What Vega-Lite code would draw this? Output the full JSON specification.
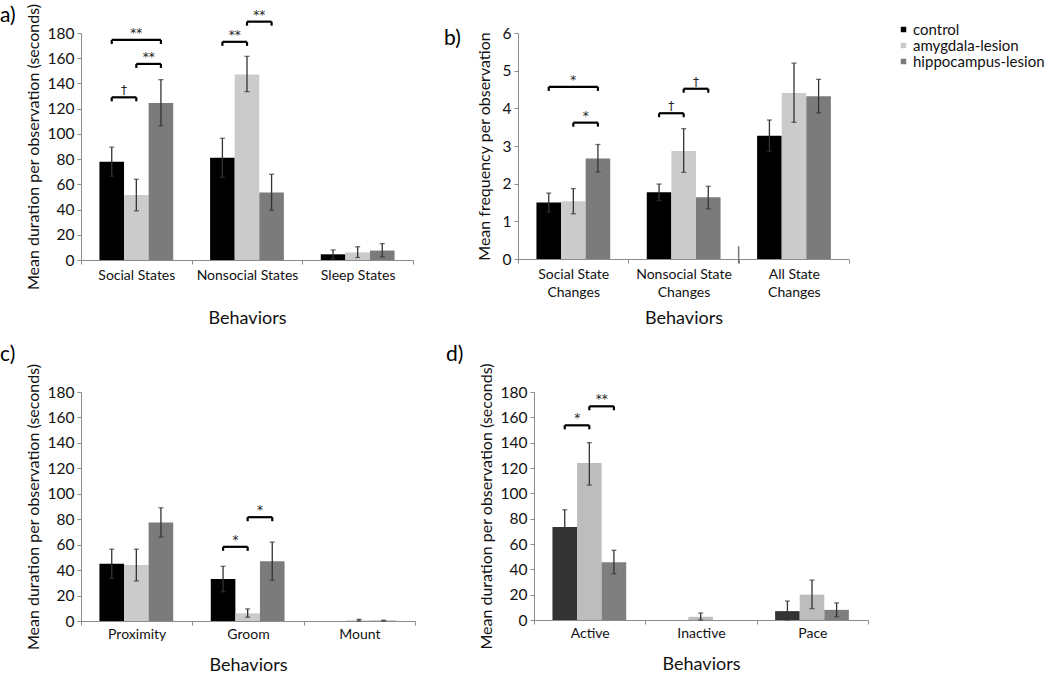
{
  "$schema": "https://vega.github.io/schema/vega-lite/v6.json",
  "padding": {"left": 0, "top": 3, "right": 5, "bottom": 0},
  "config": {
    "font": "Lato",
    "view": {"stroke": null},
    "axis": {"domainColor": "#8c8c8c", "tickColor": "#8c8c8c", "labelColor": "#111", "titleColor": "#111", "labelFont": "Lato", "titleFont": "Lato", "titleFontWeight": "normal", "grid": false, "tickSize": 4, "labelOverlap": false},
    "axisY": {"labelOverlap": false, "tickCount": 10},
    "title": {"font": "Lato", "fontSize": 21, "fontWeight": "normal", "anchor": "start", "frame": "bounds", "color": "#000"},
    "legend": {"labelFont": "Lato"}
  },
  "datasets": {
    "bars_a": [
      {"behavior": "Social States", "group": "control", "value": 78, "lo": 66.5, "hi": 89.5},
      {"behavior": "Social States", "group": "amygdala-lesion", "value": 51.5, "lo": 39, "hi": 64},
      {"behavior": "Social States", "group": "hippocampus-lesion", "value": 124.5, "lo": 106.5, "hi": 143},
      {"behavior": "Nonsocial States", "group": "control", "value": 81, "lo": 65.5, "hi": 96.5},
      {"behavior": "Nonsocial States", "group": "amygdala-lesion", "value": 147, "lo": 133.5, "hi": 161.5},
      {"behavior": "Nonsocial States", "group": "hippocampus-lesion", "value": 53.5, "lo": 39.5, "hi": 68},
      {"behavior": "Sleep States", "group": "control", "value": 4.5, "lo": 1, "hi": 8},
      {"behavior": "Sleep States", "group": "amygdala-lesion", "value": 6, "lo": 2, "hi": 10.5},
      {"behavior": "Sleep States", "group": "hippocampus-lesion", "value": 7.5, "lo": 2.5, "hi": 13}
    ],
    "br_a": [
      {"behavior": "Social States", "from": "control", "to": "amygdala-lesion", "h": 129, "label": "†"},
      {"behavior": "Social States", "from": "amygdala-lesion", "to": "hippocampus-lesion", "h": 155.5, "label": "**"},
      {"behavior": "Social States", "from": "control", "to": "hippocampus-lesion", "h": 174.5, "label": "**"},
      {"behavior": "Nonsocial States", "from": "control", "to": "amygdala-lesion", "h": 173, "label": "**"},
      {"behavior": "Nonsocial States", "from": "amygdala-lesion", "to": "hippocampus-lesion", "h": 189, "label": "**"}
    ],
    "bars_b": [
      {"behavior": "Social State Changes", "group": "control", "value": 1.5, "lo": 1.25, "hi": 1.75},
      {"behavior": "Social State Changes", "group": "amygdala-lesion", "value": 1.53, "lo": 1.2, "hi": 1.87},
      {"behavior": "Social State Changes", "group": "hippocampus-lesion", "value": 2.67, "lo": 2.31, "hi": 3.04},
      {"behavior": "Nonsocial State Changes", "group": "control", "value": 1.77, "lo": 1.55, "hi": 1.99},
      {"behavior": "Nonsocial State Changes", "group": "amygdala-lesion", "value": 2.87, "lo": 2.3, "hi": 3.46},
      {"behavior": "Nonsocial State Changes", "group": "hippocampus-lesion", "value": 1.64, "lo": 1.33, "hi": 1.93},
      {"behavior": "All State Changes", "group": "control", "value": 3.27, "lo": 2.86, "hi": 3.69},
      {"behavior": "All State Changes", "group": "amygdala-lesion", "value": 4.41, "lo": 3.63, "hi": 5.2},
      {"behavior": "All State Changes", "group": "hippocampus-lesion", "value": 4.32, "lo": 3.88, "hi": 4.77}
    ],
    "br_b": [
      {"behavior": "Social State Changes", "from": "control", "to": "hippocampus-lesion", "h": 4.57, "label": "*"},
      {"behavior": "Social State Changes", "from": "amygdala-lesion", "to": "hippocampus-lesion", "h": 3.62, "label": "*"},
      {"behavior": "Nonsocial State Changes", "from": "control", "to": "amygdala-lesion", "h": 3.87, "label": "†"},
      {"behavior": "Nonsocial State Changes", "from": "amygdala-lesion", "to": "hippocampus-lesion", "h": 4.52, "label": "†"}
    ],
    "bars_c": [
      {"behavior": "Proximity", "group": "control", "value": 45, "lo": 33.5, "hi": 56.5},
      {"behavior": "Proximity", "group": "amygdala-lesion", "value": 44, "lo": 31.5, "hi": 56.5},
      {"behavior": "Proximity", "group": "hippocampus-lesion", "value": 77.5, "lo": 66, "hi": 89},
      {"behavior": "Groom", "group": "control", "value": 33, "lo": 23, "hi": 43},
      {"behavior": "Groom", "group": "amygdala-lesion", "value": 6, "lo": 3, "hi": 9.5},
      {"behavior": "Groom", "group": "hippocampus-lesion", "value": 47, "lo": 32, "hi": 62},
      {"behavior": "Mount", "group": "control", "value": 0},
      {"behavior": "Mount", "group": "amygdala-lesion", "value": 0.5, "lo": 0, "hi": 1.3},
      {"behavior": "Mount", "group": "hippocampus-lesion", "value": 0.3, "lo": 0, "hi": 0.6}
    ],
    "br_c": [
      {"behavior": "Groom", "from": "control", "to": "amygdala-lesion", "h": 58.3, "label": "*"},
      {"behavior": "Groom", "from": "amygdala-lesion", "to": "hippocampus-lesion", "h": 81.6, "label": "*"}
    ],
    "bars_d": [
      {"behavior": "Active", "group": "control", "value": 73.5, "lo": 60.5, "hi": 87},
      {"behavior": "Active", "group": "amygdala-lesion", "value": 124, "lo": 106.5, "hi": 140},
      {"behavior": "Active", "group": "hippocampus-lesion", "value": 45.5, "lo": 36.5, "hi": 55},
      {"behavior": "Inactive", "group": "control", "value": 0},
      {"behavior": "Inactive", "group": "amygdala-lesion", "value": 2.5, "lo": 0, "hi": 5.5},
      {"behavior": "Inactive", "group": "hippocampus-lesion", "value": 0},
      {"behavior": "Pace", "group": "control", "value": 7, "lo": 0, "hi": 15},
      {"behavior": "Pace", "group": "amygdala-lesion", "value": 20, "lo": 9, "hi": 31.5},
      {"behavior": "Pace", "group": "hippocampus-lesion", "value": 8, "lo": 2.5, "hi": 13.5}
    ],
    "br_d": [
      {"behavior": "Active", "from": "control", "to": "amygdala-lesion", "h": 153.7, "label": "*"},
      {"behavior": "Active", "from": "amygdala-lesion", "to": "hippocampus-lesion", "h": 168.7, "label": "**"}
    ]
  },
  "resolve": {"scale": {"color": "independent"}},
  "spacing": 16,
  "vconcat": [
    {
      "spacing": 30,
      "hconcat": [
        {
          "title": {"text": "a)", "dx": -25, "offset": -23},
          "width": 332, "height": 227,
          "layer": [
            {
              "data": {"name": "bars_a"},
              "mark": {"type": "bar"},
              "encoding": {
                "x": {"field": "behavior", "type": "nominal", "sort": ["Social States", "Nonsocial States", "Sleep States"], "scale": {"domain": ["Social States", "Nonsocial States", "Sleep States"], "paddingInner": 0, "paddingOuter": 0}, "axis": {"title": "Behaviors", "labelAngle": 0, "tickBand": "extent", "labelFontSize": 14, "labelPadding": 4, "titleFontSize": 18, "titlePadding": 27}},
                "xOffset": {"field": "group", "type": "nominal", "sort": ["control", "amygdala-lesion", "hippocampus-lesion"], "scale": {"domain": ["control", "amygdala-lesion", "hippocampus-lesion"], "paddingInner": 0, "paddingOuter": 0.75}},
                "y": {"field": "value", "type": "quantitative", "scale": {"domain": [0, 180], "nice": false}, "axis": {"title": "Mean duration per observation (seconds)", "values": [0, 20, 40, 60, 80, 100, 120, 140, 160, 180], "tickCount": 10, "format": "d", "labelOverlap": false, "labelFontSize": 15.5, "titleFontSize": 16, "labelPadding": 3, "titlePadding": 6}},
                "color": {"field": "group", "type": "nominal", "scale": {"domain": ["control", "amygdala-lesion", "hippocampus-lesion"], "range": ["#000000", "#cbcbcb", "#7b7b7b"]}, "legend": {"title": null, "orient": "none", "legendX": 815, "legendY": -11, "symbolType": "square", "symbolSize": 30, "labelFontSize": 15, "labelColor": "#111", "rowPadding": -6, "labelOffset": 2}}
              }
            },
            {
              "data": {"name": "bars_a"},
              "mark": {"type": "rule", "color": "#333", "strokeWidth": 1.3},
              "encoding": {"x": {"field": "behavior", "type": "nominal", "sort": ["Social States", "Nonsocial States", "Sleep States"]}, "xOffset": {"field": "group", "type": "nominal", "sort": ["control", "amygdala-lesion", "hippocampus-lesion"]}, "y": {"field": "lo", "type": "quantitative"}, "y2": {"field": "hi"}}
            },
            {
              "data": {"name": "bars_a"},
              "mark": {"type": "tick", "orient": "horizontal", "color": "#333", "size": 5, "thickness": 1.3},
              "encoding": {"x": {"field": "behavior", "type": "nominal", "sort": ["Social States", "Nonsocial States", "Sleep States"]}, "xOffset": {"field": "group", "type": "nominal", "sort": ["control", "amygdala-lesion", "hippocampus-lesion"]}, "y": {"field": "lo", "type": "quantitative"}}
            },
            {
              "data": {"name": "bars_a"},
              "mark": {"type": "tick", "orient": "horizontal", "color": "#333", "size": 5, "thickness": 1.3},
              "encoding": {"x": {"field": "behavior", "type": "nominal", "sort": ["Social States", "Nonsocial States", "Sleep States"]}, "xOffset": {"field": "group", "type": "nominal", "sort": ["control", "amygdala-lesion", "hippocampus-lesion"]}, "y": {"field": "hi", "type": "quantitative"}}
            },
            {
              "data": {"name": "br_a"},
              "transform": [{"fold": ["from", "to"], "as": ["end", "grp"]}],
              "mark": {"type": "line", "color": "#000", "strokeWidth": 2.2},
              "encoding": {"x": {"field": "behavior", "type": "nominal", "sort": ["Social States", "Nonsocial States", "Sleep States"]}, "xOffset": {"field": "grp", "type": "nominal", "sort": ["control", "amygdala-lesion", "hippocampus-lesion"]}, "y": {"field": "h", "type": "quantitative"}, "detail": [{"field": "behavior"}, {"field": "from"}, {"field": "to"}]}
            },
            {
              "data": {"name": "br_a"},
              "transform": [{"fold": ["from", "to"], "as": ["end", "grp"]}],
              "mark": {"type": "rule", "color": "#000", "strokeWidth": 2.2, "y2Offset": 4},
              "encoding": {"x": {"field": "behavior", "type": "nominal", "sort": ["Social States", "Nonsocial States", "Sleep States"]}, "xOffset": {"field": "grp", "type": "nominal", "sort": ["control", "amygdala-lesion", "hippocampus-lesion"]}, "y": {"field": "h", "type": "quantitative"}, "y2": {"field": "h"}}
            },
            {
              "data": {"name": "br_a"},
              "transform": [{"filter": "datum.from == 'control' && datum.to == 'hippocampus-lesion'"}],
              "mark": {"type": "text", "baseline": "alphabetic", "dy": -3, "fontSize": 12, "font": "DejaVu Sans", "color": "#222"},
              "encoding": {"x": {"field": "behavior", "type": "nominal", "sort": ["Social States", "Nonsocial States", "Sleep States"]}, "xOffset": {"datum": "amygdala-lesion"}, "y": {"field": "h", "type": "quantitative"}, "text": {"field": "label"}}
            },
            {
              "data": {"name": "br_a"},
              "transform": [{"filter": "!(datum.from == 'control' && datum.to == 'hippocampus-lesion')"}],
              "mark": {"type": "text", "baseline": "alphabetic", "dy": -3, "dx": 12.3, "fontSize": 12, "font": "DejaVu Sans", "color": "#222"},
              "encoding": {"x": {"field": "behavior", "type": "nominal", "sort": ["Social States", "Nonsocial States", "Sleep States"]}, "xOffset": {"field": "from", "type": "nominal", "sort": ["control", "amygdala-lesion", "hippocampus-lesion"]}, "y": {"field": "h", "type": "quantitative"}, "text": {"field": "label"}}
            }
          ]
        },
        {
          "title": {"text": "b)", "dx": -32, "offset": -23},
          "width": 331, "height": 226,
          "layer": [
            {
              "data": {"name": "bars_b"},
              "mark": {"type": "bar"},
              "encoding": {
                "x": {"field": "behavior", "type": "nominal", "sort": ["Social State Changes", "Nonsocial State Changes", "All State Changes"], "scale": {"domain": ["Social State Changes", "Nonsocial State Changes", "All State Changes"], "paddingInner": 0, "paddingOuter": 0}, "axis": {"title": "Behaviors", "labelAngle": 0, "tickBand": "extent", "labelFontSize": 14, "labelPadding": 4, "labelLineHeight": 18, "labelExpr": "length(datum.label) > 0 ? [replace(datum.label, ' Changes', ''), 'Changes'] : ''", "titleFontSize": 18, "titlePadding": 10}},
                "xOffset": {"field": "group", "type": "nominal", "sort": ["control", "amygdala-lesion", "hippocampus-lesion"], "scale": {"domain": ["control", "amygdala-lesion", "hippocampus-lesion"], "paddingInner": 0, "paddingOuter": 0.75}},
                "y": {"field": "value", "type": "quantitative", "scale": {"domain": [0, 6], "nice": false}, "axis": {"title": "Mean frequency per observation", "values": [0, 1, 2, 3, 4, 5, 6], "tickCount": 10, "format": "d", "labelOverlap": false, "labelFontSize": 15.5, "titleFontSize": 16, "labelPadding": 3, "titlePadding": 10}},
                "color": {"field": "group", "type": "nominal"}
              }
            },
            {
              "data": {"name": "bars_b"},
              "mark": {"type": "rule", "color": "#333", "strokeWidth": 1.3},
              "encoding": {"x": {"field": "behavior", "type": "nominal", "sort": ["Social State Changes", "Nonsocial State Changes", "All State Changes"]}, "xOffset": {"field": "group", "type": "nominal", "sort": ["control", "amygdala-lesion", "hippocampus-lesion"]}, "y": {"field": "lo", "type": "quantitative"}, "y2": {"field": "hi"}}
            },
            {
              "data": {"name": "bars_b"},
              "mark": {"type": "tick", "orient": "horizontal", "color": "#333", "size": 5, "thickness": 1.3},
              "encoding": {"x": {"field": "behavior", "type": "nominal", "sort": ["Social State Changes", "Nonsocial State Changes", "All State Changes"]}, "xOffset": {"field": "group", "type": "nominal", "sort": ["control", "amygdala-lesion", "hippocampus-lesion"]}, "y": {"field": "lo", "type": "quantitative"}}
            },
            {
              "data": {"name": "bars_b"},
              "mark": {"type": "tick", "orient": "horizontal", "color": "#333", "size": 5, "thickness": 1.3},
              "encoding": {"x": {"field": "behavior", "type": "nominal", "sort": ["Social State Changes", "Nonsocial State Changes", "All State Changes"]}, "xOffset": {"field": "group", "type": "nominal", "sort": ["control", "amygdala-lesion", "hippocampus-lesion"]}, "y": {"field": "hi", "type": "quantitative"}}
            },
            {
              "data": {"name": "br_b"},
              "transform": [{"fold": ["from", "to"], "as": ["end", "grp"]}],
              "mark": {"type": "line", "color": "#000", "strokeWidth": 2.2},
              "encoding": {"x": {"field": "behavior", "type": "nominal", "sort": ["Social State Changes", "Nonsocial State Changes", "All State Changes"]}, "xOffset": {"field": "grp", "type": "nominal", "sort": ["control", "amygdala-lesion", "hippocampus-lesion"]}, "y": {"field": "h", "type": "quantitative"}, "detail": [{"field": "behavior"}, {"field": "from"}, {"field": "to"}]}
            },
            {
              "data": {"name": "br_b"},
              "transform": [{"fold": ["from", "to"], "as": ["end", "grp"]}],
              "mark": {"type": "rule", "color": "#000", "strokeWidth": 2.2, "y2Offset": 4},
              "encoding": {"x": {"field": "behavior", "type": "nominal", "sort": ["Social State Changes", "Nonsocial State Changes", "All State Changes"]}, "xOffset": {"field": "grp", "type": "nominal", "sort": ["control", "amygdala-lesion", "hippocampus-lesion"]}, "y": {"field": "h", "type": "quantitative"}, "y2": {"field": "h"}}
            },
            {
              "data": {"name": "br_b"},
              "transform": [{"filter": "datum.from == 'control' && datum.to == 'hippocampus-lesion'"}],
              "mark": {"type": "text", "baseline": "alphabetic", "dy": -3, "fontSize": 12, "font": "DejaVu Sans", "color": "#222"},
              "encoding": {"x": {"field": "behavior", "type": "nominal", "sort": ["Social State Changes", "Nonsocial State Changes", "All State Changes"]}, "xOffset": {"datum": "amygdala-lesion"}, "y": {"field": "h", "type": "quantitative"}, "text": {"field": "label"}}
            },
            {
              "data": {"name": "br_b"},
              "transform": [{"filter": "!(datum.from == 'control' && datum.to == 'hippocampus-lesion')"}],
              "mark": {"type": "text", "baseline": "alphabetic", "dy": -3, "dx": 12.3, "fontSize": 12, "font": "DejaVu Sans", "color": "#222"},
              "encoding": {"x": {"field": "behavior", "type": "nominal", "sort": ["Social State Changes", "Nonsocial State Changes", "All State Changes"]}, "xOffset": {"field": "from", "type": "nominal", "sort": ["control", "amygdala-lesion", "hippocampus-lesion"]}, "y": {"field": "h", "type": "quantitative"}, "text": {"field": "label"}}
            },
            {
              "data": {"values": [{}]},
              "mark": {"type": "rule", "color": "#777", "strokeWidth": 1.5, "xOffset": -55.2},
              "encoding": {"x": {"datum": "All State Changes", "type": "nominal"}, "y": {"datum": -0.12, "type": "quantitative"}, "y2": {"datum": 0.34}}
            }
          ]
        }
      ]
    },
    {
      "spacing": 30,
      "resolve": {"scale": {"color": "independent"}},
      "hconcat": [
        {
          "title": {"text": "c)", "dx": -25, "offset": -2},
          "width": 334, "height": 229,
          "layer": [
            {
              "data": {"name": "bars_c"},
              "mark": {"type": "bar"},
              "encoding": {
                "x": {"field": "behavior", "type": "nominal", "sort": ["Proximity", "Groom", "Mount"], "scale": {"domain": ["Proximity", "Groom", "Mount"], "paddingInner": 0, "paddingOuter": 0}, "axis": {"title": "Behaviors", "labelAngle": 0, "tickBand": "extent", "labelFontSize": 14, "labelPadding": 2, "titleFontSize": 18, "titlePadding": 15}},
                "xOffset": {"field": "group", "type": "nominal", "sort": ["control", "amygdala-lesion", "hippocampus-lesion"], "scale": {"domain": ["control", "amygdala-lesion", "hippocampus-lesion"], "paddingInner": 0, "paddingOuter": 0.75}},
                "y": {"field": "value", "type": "quantitative", "scale": {"domain": [0, 180], "nice": false}, "axis": {"title": "Mean duration per observation (seconds)", "values": [0, 20, 40, 60, 80, 100, 120, 140, 160, 180], "tickCount": 10, "format": "d", "labelOverlap": false, "labelFontSize": 15.5, "titleFontSize": 16, "labelPadding": 3, "titlePadding": 6}},
                "color": {"field": "group", "type": "nominal", "scale": {"domain": ["control", "amygdala-lesion", "hippocampus-lesion"], "range": ["#000000", "#cbcbcb", "#7b7b7b"]}, "legend": null}
              }
            },
            {
              "data": {"name": "bars_c"},
              "mark": {"type": "rule", "color": "#333", "strokeWidth": 1.3},
              "encoding": {"x": {"field": "behavior", "type": "nominal", "sort": ["Proximity", "Groom", "Mount"]}, "xOffset": {"field": "group", "type": "nominal", "sort": ["control", "amygdala-lesion", "hippocampus-lesion"]}, "y": {"field": "lo", "type": "quantitative"}, "y2": {"field": "hi"}}
            },
            {
              "data": {"name": "bars_c"},
              "mark": {"type": "tick", "orient": "horizontal", "color": "#333", "size": 5, "thickness": 1.3},
              "encoding": {"x": {"field": "behavior", "type": "nominal", "sort": ["Proximity", "Groom", "Mount"]}, "xOffset": {"field": "group", "type": "nominal", "sort": ["control", "amygdala-lesion", "hippocampus-lesion"]}, "y": {"field": "lo", "type": "quantitative"}}
            },
            {
              "data": {"name": "bars_c"},
              "mark": {"type": "tick", "orient": "horizontal", "color": "#333", "size": 5, "thickness": 1.3},
              "encoding": {"x": {"field": "behavior", "type": "nominal", "sort": ["Proximity", "Groom", "Mount"]}, "xOffset": {"field": "group", "type": "nominal", "sort": ["control", "amygdala-lesion", "hippocampus-lesion"]}, "y": {"field": "hi", "type": "quantitative"}}
            },
            {
              "data": {"name": "br_c"},
              "transform": [{"fold": ["from", "to"], "as": ["end", "grp"]}],
              "mark": {"type": "line", "color": "#000", "strokeWidth": 2.2},
              "encoding": {"x": {"field": "behavior", "type": "nominal", "sort": ["Proximity", "Groom", "Mount"]}, "xOffset": {"field": "grp", "type": "nominal", "sort": ["control", "amygdala-lesion", "hippocampus-lesion"]}, "y": {"field": "h", "type": "quantitative"}, "detail": [{"field": "behavior"}, {"field": "from"}, {"field": "to"}]}
            },
            {
              "data": {"name": "br_c"},
              "transform": [{"fold": ["from", "to"], "as": ["end", "grp"]}],
              "mark": {"type": "rule", "color": "#000", "strokeWidth": 2.2, "y2Offset": 4},
              "encoding": {"x": {"field": "behavior", "type": "nominal", "sort": ["Proximity", "Groom", "Mount"]}, "xOffset": {"field": "grp", "type": "nominal", "sort": ["control", "amygdala-lesion", "hippocampus-lesion"]}, "y": {"field": "h", "type": "quantitative"}, "y2": {"field": "h"}}
            },
            {
              "data": {"name": "br_c"},
              "mark": {"type": "text", "baseline": "alphabetic", "dy": -3, "dx": 12.4, "fontSize": 12, "font": "DejaVu Sans", "color": "#222"},
              "encoding": {"x": {"field": "behavior", "type": "nominal", "sort": ["Proximity", "Groom", "Mount"]}, "xOffset": {"field": "from", "type": "nominal", "sort": ["control", "amygdala-lesion", "hippocampus-lesion"]}, "y": {"field": "h", "type": "quantitative"}, "text": {"field": "label"}}
            }
          ]
        },
        {
          "title": {"text": "d)", "dx": -32, "offset": -2},
          "width": 334, "height": 228,
          "layer": [
            {
              "data": {"name": "bars_d"},
              "mark": {"type": "bar"},
              "encoding": {
                "x": {"field": "behavior", "type": "nominal", "sort": ["Active", "Inactive", "Pace"], "scale": {"domain": ["Active", "Inactive", "Pace"], "paddingInner": 0, "paddingOuter": 0}, "axis": {"title": "Behaviors", "labelAngle": 0, "tickBand": "extent", "labelFontSize": 14, "labelPadding": 2, "titleFontSize": 18, "titlePadding": 15}},
                "xOffset": {"field": "group", "type": "nominal", "sort": ["control", "amygdala-lesion", "hippocampus-lesion"], "scale": {"domain": ["control", "amygdala-lesion", "hippocampus-lesion"], "paddingInner": 0, "paddingOuter": 0.75}},
                "y": {"field": "value", "type": "quantitative", "scale": {"domain": [0, 180], "nice": false}, "axis": {"title": "Mean duration per observation (seconds)", "values": [0, 20, 40, 60, 80, 100, 120, 140, 160, 180], "tickCount": 10, "format": "d", "labelOverlap": false, "labelFontSize": 15.5, "titleFontSize": 16, "labelPadding": 3, "titlePadding": 6}},
                "color": {"field": "group", "type": "nominal", "scale": {"domain": ["control", "amygdala-lesion", "hippocampus-lesion"], "range": ["#333333", "#bdbdbd", "#7f7f7f"]}, "legend": null}
              }
            },
            {
              "data": {"name": "bars_d"},
              "mark": {"type": "rule", "color": "#333", "strokeWidth": 1.3},
              "encoding": {"x": {"field": "behavior", "type": "nominal", "sort": ["Active", "Inactive", "Pace"]}, "xOffset": {"field": "group", "type": "nominal", "sort": ["control", "amygdala-lesion", "hippocampus-lesion"]}, "y": {"field": "lo", "type": "quantitative"}, "y2": {"field": "hi"}}
            },
            {
              "data": {"name": "bars_d"},
              "mark": {"type": "tick", "orient": "horizontal", "color": "#333", "size": 5, "thickness": 1.3},
              "encoding": {"x": {"field": "behavior", "type": "nominal", "sort": ["Active", "Inactive", "Pace"]}, "xOffset": {"field": "group", "type": "nominal", "sort": ["control", "amygdala-lesion", "hippocampus-lesion"]}, "y": {"field": "lo", "type": "quantitative"}}
            },
            {
              "data": {"name": "bars_d"},
              "mark": {"type": "tick", "orient": "horizontal", "color": "#333", "size": 5, "thickness": 1.3},
              "encoding": {"x": {"field": "behavior", "type": "nominal", "sort": ["Active", "Inactive", "Pace"]}, "xOffset": {"field": "group", "type": "nominal", "sort": ["control", "amygdala-lesion", "hippocampus-lesion"]}, "y": {"field": "hi", "type": "quantitative"}}
            },
            {
              "data": {"name": "br_d"},
              "transform": [{"fold": ["from", "to"], "as": ["end", "grp"]}],
              "mark": {"type": "line", "color": "#000", "strokeWidth": 2.2},
              "encoding": {"x": {"field": "behavior", "type": "nominal", "sort": ["Active", "Inactive", "Pace"]}, "xOffset": {"field": "grp", "type": "nominal", "sort": ["control", "amygdala-lesion", "hippocampus-lesion"]}, "y": {"field": "h", "type": "quantitative"}, "detail": [{"field": "behavior"}, {"field": "from"}, {"field": "to"}]}
            },
            {
              "data": {"name": "br_d"},
              "transform": [{"fold": ["from", "to"], "as": ["end", "grp"]}],
              "mark": {"type": "rule", "color": "#000", "strokeWidth": 2.2, "y2Offset": 4},
              "encoding": {"x": {"field": "behavior", "type": "nominal", "sort": ["Active", "Inactive", "Pace"]}, "xOffset": {"field": "grp", "type": "nominal", "sort": ["control", "amygdala-lesion", "hippocampus-lesion"]}, "y": {"field": "h", "type": "quantitative"}, "y2": {"field": "h"}}
            },
            {
              "data": {"name": "br_d"},
              "mark": {"type": "text", "baseline": "alphabetic", "dy": -3, "dx": 12.4, "fontSize": 12, "font": "DejaVu Sans", "color": "#222"},
              "encoding": {"x": {"field": "behavior", "type": "nominal", "sort": ["Active", "Inactive", "Pace"]}, "xOffset": {"field": "from", "type": "nominal", "sort": ["control", "amygdala-lesion", "hippocampus-lesion"]}, "y": {"field": "h", "type": "quantitative"}, "text": {"field": "label"}}
            }
          ]
        }
      ]
    }
  ]
}
